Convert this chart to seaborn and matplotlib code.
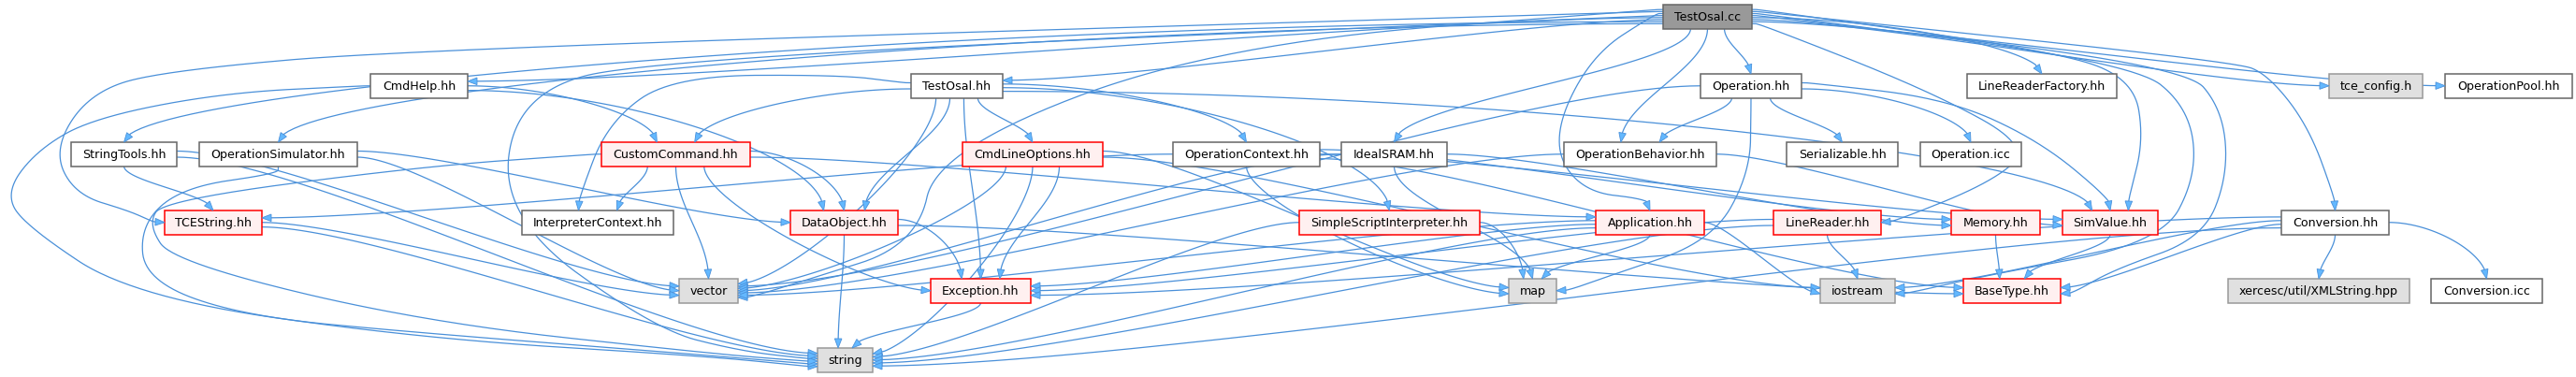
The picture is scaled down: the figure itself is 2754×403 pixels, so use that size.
import numpy as np
import pandas as pd
import matplotlib
matplotlib.use("Agg")
import matplotlib.pyplot as plt
from matplotlib.patches import Rectangle, Polygon
import seaborn as sns

# --- include graph of TestOsal.cc ---
node_names = ["TestOsal.cc",
              "CmdHelp.hh", "TestOsal.hh", "Operation.hh", "LineReaderFactory.hh", "tce_config.h", "OperationPool.hh",
              "StringTools.hh", "OperationSimulator.hh", "CustomCommand.hh", "CmdLineOptions.hh",
              "OperationContext.hh", "IdealSRAM.hh", "OperationBehavior.hh", "Serializable.hh", "Operation.icc",
              "TCEString.hh", "InterpreterContext.hh", "DataObject.hh", "SimpleScriptInterpreter.hh",
              "Application.hh", "LineReader.hh", "Memory.hh", "SimValue.hh", "Conversion.hh",
              "vector", "Exception.hh", "map", "iostream", "BaseType.hh", "xercesc/util/XMLString.hpp",
              "Conversion.icc",
              "string"]
node_x0 = [1778,
           396, 974, 1818, 2103, 2490, 2614,
           76, 213, 643, 1029, 1254, 1434, 1672, 1910, 2053,
           176, 558, 845, 1389, 1706, 1896, 2086, 2205, 2439,
           726, 995, 1613, 1946, 2099, 2382, 2599,
           874]
node_x1 = [1873,
           500, 1072, 1926, 2263, 2590, 2750,
           189, 382, 802, 1179, 1411, 1547, 1835, 2029, 2161,
           280, 720, 960, 1582, 1822, 2011, 2181, 2307, 2554,
           789, 1102, 1664, 2026, 2203, 2576, 2718,
           933]
node_layer = [0,
              1, 1, 1, 1, 1, 1,
              2, 2, 2, 2, 2, 2, 2, 2, 2,
              3, 3, 3, 3, 3, 3, 3, 3, 3,
              4, 4, 4, 4, 4, 4, 4,
              5]
node_kind = ["root",
             "plain", "plain", "plain", "plain", "ext", "plain",
             "plain", "plain", "red", "red", "plain", "plain", "plain", "plain", "plain",
             "red", "plain", "red", "red", "red", "red", "red", "red", "plain",
             "ext", "red", "ext", "ext", "red", "ext", "plain",
             "ext"]

edges = [
    ("TestOsal.cc", "CmdHelp.hh"), ("TestOsal.cc", "TestOsal.hh"), ("TestOsal.cc", "StringTools.hh"),
    ("TestOsal.cc", "OperationSimulator.hh"), ("TestOsal.cc", "TCEString.hh"), ("TestOsal.cc", "string"),
    ("TestOsal.cc", "vector"), ("TestOsal.cc", "IdealSRAM.hh"), ("TestOsal.cc", "Application.hh"),
    ("TestOsal.cc", "OperationBehavior.hh"), ("TestOsal.cc", "Operation.hh"),
    ("TestOsal.cc", "LineReaderFactory.hh"), ("TestOsal.cc", "LineReader.hh"), ("TestOsal.cc", "SimValue.hh"),
    ("TestOsal.cc", "tce_config.h"), ("TestOsal.cc", "OperationPool.hh"), ("TestOsal.cc", "Conversion.hh"),
    ("TestOsal.cc", "iostream"), ("TestOsal.cc", "BaseType.hh"),
    ("CmdHelp.hh", "CustomCommand.hh"), ("CmdHelp.hh", "DataObject.hh"), ("CmdHelp.hh", "string"),
    ("TestOsal.hh", "CustomCommand.hh"), ("TestOsal.hh", "DataObject.hh"), ("TestOsal.hh", "CmdLineOptions.hh"),
    ("TestOsal.hh", "OperationContext.hh"), ("TestOsal.hh", "Exception.hh"),
    ("TestOsal.hh", "InterpreterContext.hh"), ("TestOsal.hh", "SimpleScriptInterpreter.hh"),
    ("TestOsal.hh", "SimValue.hh"), ("TestOsal.hh", "vector"),
    ("Operation.hh", "OperationBehavior.hh"), ("Operation.hh", "Serializable.hh"),
    ("Operation.hh", "Operation.icc"), ("Operation.hh", "SimValue.hh"), ("Operation.hh", "vector"),
    ("Operation.hh", "map"),
    ("StringTools.hh", "TCEString.hh"), ("StringTools.hh", "vector"), ("StringTools.hh", "string"),
    ("OperationSimulator.hh", "vector"), ("OperationSimulator.hh", "string"),
    ("OperationSimulator.hh", "DataObject.hh"),
    ("CustomCommand.hh", "InterpreterContext.hh"), ("CustomCommand.hh", "vector"),
    ("CustomCommand.hh", "DataObject.hh"), ("CustomCommand.hh", "Exception.hh"),
    ("CustomCommand.hh", "string"), ("CustomCommand.hh", "Application.hh"),
    ("CmdLineOptions.hh", "vector"), ("CmdLineOptions.hh", "Exception.hh"), ("CmdLineOptions.hh", "string"),
    ("CmdLineOptions.hh", "map"), ("CmdLineOptions.hh", "iostream"),
    ("OperationContext.hh", "TCEString.hh"), ("OperationContext.hh", "SimValue.hh"),
    ("OperationContext.hh", "Memory.hh"), ("OperationContext.hh", "map"), ("OperationContext.hh", "BaseType.hh"),
    ("IdealSRAM.hh", "map"), ("IdealSRAM.hh", "vector"), ("IdealSRAM.hh", "Memory.hh"),
    ("OperationBehavior.hh", "vector"), ("OperationBehavior.hh", "SimValue.hh"),
    ("SimpleScriptInterpreter.hh", "map"), ("SimpleScriptInterpreter.hh", "string"),
    ("Application.hh", "map"), ("Application.hh", "vector"), ("Application.hh", "string"),
    ("Application.hh", "iostream"), ("Application.hh", "Exception.hh"),
    ("LineReader.hh", "iostream"), ("LineReader.hh", "string"), ("LineReader.hh", "Exception.hh"),
    ("Memory.hh", "BaseType.hh"), ("SimValue.hh", "BaseType.hh"),
    ("DataObject.hh", "Exception.hh"), ("DataObject.hh", "string"), ("DataObject.hh", "BaseType.hh"),
    ("Exception.hh", "string"),
    ("TCEString.hh", "vector"), ("TCEString.hh", "string"),
    ("Conversion.hh", "iostream"), ("Conversion.hh", "BaseType.hh"),
    ("Conversion.hh", "xercesc/util/XMLString.hpp"), ("Conversion.hh", "Conversion.icc"),
    ("Conversion.hh", "string"), ("Conversion.hh", "Exception.hh"),
]

# layout of the picture (pixels)
W, H = 2754, 403
layer_top = [5, 79, 152, 225, 298, 372]
box_h = 25.5

# edges that the graph layout routes around other boxes
detours = {
    ("TestOsal.cc", "TCEString.hh"): [(450, 52), (170, 76), (95, 100), (57, 160), (80, 208), (140, 226)],
    ("CmdHelp.hh", "string"): [(240, 99), (100, 126), (40, 160), (6, 205), (25, 240), (143, 318), (450, 362),
                               (760, 381)],
    ("CustomCommand.hh", "string"): [(450, 178), (175, 214), (158, 240), (185, 280), (450, 344), (760, 378)],
    ("OperationSimulator.hh", "string"): [(195, 200), (150, 240), (155, 300), (260, 338), (450, 356),
                                          (760, 380)],
    ("TestOsal.cc", "string"): [(700, 62), (552, 100), (536, 233), (700, 352), (790, 375)],
    ("TestOsal.cc", "vector"): [(1300, 47), (1002, 160), (980, 262), (860, 300)],
    ("TestOsal.cc", "Application.hh"): [(1700, 60), (1658, 150), (1690, 205)],
    ("TestOsal.cc", "LineReader.hh"): [(2063, 97), (2172, 157), (2129, 195)],
    ("TestOsal.cc", "SimValue.hh"): [(2200, 55), (2281, 85), (2292, 150)],
    ("TestOsal.cc", "iostream"): [(2281, 67), (2340, 115), (2349, 187), (2310, 260), (2120, 295)],
    ("TestOsal.cc", "BaseType.hh"): [(2336, 70), (2376, 117), (2382, 187), (2355, 255), (2260, 288)],
    ("TestOsal.cc", "Conversion.hh"): [(2390, 66), (2425, 80), (2468, 135)],
    ("Operation.hh", "map"): [(1871, 185), (1830, 258), (1720, 295)],
    ("Operation.hh", "SimValue.hh"): [(2080, 105), (2180, 150)],
    ("TestOsal.hh", "InterpreterContext.hh"): [(900, 80), (720, 81), (650, 130)],
}

sns.set_theme(style="white")
plt.rcParams["font.family"] = ["DejaVu Sans"]

nodes = pd.DataFrame({"name": node_names, "x0": node_x0, "x1": node_x1,
                      "layer": node_layer, "kind": node_kind})
nodes["y0"] = [layer_top[l] for l in nodes["layer"]]
nodes["y1"] = nodes["y0"] + box_h
nodes["cx"] = (nodes["x0"] + nodes["x1"]) / 2
nodes["cy"] = (nodes["y0"] + nodes["y1"]) / 2
nodes = nodes.set_index("name")


def pick_sides(s, t, path):
    if path:
        fx, fy = path[0]
        lx, ly = path[-1]
        if fy > s.y1 and s.x0 - 30 < fx < s.x1 + 30:
            ss = "bottom"
        else:
            ss = "left" if fx < s.cx else "right"
        if ly < t.y0 and t.x0 - 30 < lx < t.x1 + 30:
            ts = "top"
        else:
            ts = "left" if lx < t.cx else "right"
        return ss, ts, (fx, fy), (lx, ly)
    dl = t.layer - s.layer
    dx = t.cx - s.cx
    gap = t.y0 - s.y1
    if dl == 1 and abs(dx) > 400:
        ss = "left" if dx < 0 else "right"
        ts = "right" if dx < 0 else "left"
    else:
        ts = "top"
        if t.layer >= 4 and abs(dx) > 200:
            ts = "right" if dx < 0 else "left"
        ss = "bottom" if abs(dx) < 3.0 * gap else ("left" if dx < 0 else "right")
    return ss, ts, (t.cx, t.cy), (s.cx, s.cy)


rows = []
for k, (a, b) in enumerate(edges):
    s, t = nodes.loc[a], nodes.loc[b]
    path = detours.get((a, b))
    ss, ts, far_s, far_t = pick_sides(s, t, path)
    rows.append(dict(k=k, src=a, dst=b, ss=ss, ts=ts, fsx=far_s[0], fsy=far_s[1],
                     ftx=far_t[0], fty=far_t[1]))
E = pd.DataFrame(rows)

# spread the ports along each box side
ends = pd.concat([
    E.rename(columns={"src": "node", "ss": "side", "fsx": "ox", "fsy": "oy"})[["k", "node", "side", "ox", "oy"]]
    .assign(end="s"),
    E.rename(columns={"dst": "node", "ts": "side", "ftx": "ox", "fty": "oy"})[["k", "node", "side", "ox", "oy"]]
    .assign(end="t")])
ports = {}
for (node, side), grp in ends.groupby(["node", "side"]):
    n = nodes.loc[node]
    if side in ("top", "bottom"):
        grp = grp.sort_values(["ox", "oy"])
        m = 0.12 * (n.x1 - n.x0)
        pos = np.linspace(n.x0 + m, n.x1 - m, len(grp) + 2)[1:-1]
        y = n.y1 if side == "bottom" else n.y0
        for (_, r), p in zip(grp.iterrows(), pos):
            ports[(r.k, r.end)] = (p, y)
    else:
        grp = grp.sort_values(["oy", "ox"])
        pos = np.linspace(n.y0 + 3, n.y1 - 3, len(grp) + 2)[1:-1]
        x = n.x0 if side == "left" else n.x1
        for (_, r), p in zip(grp.iterrows(), pos):
            ports[(r.k, r.end)] = (x, p)

out_dir = {"bottom": (0, 1), "left": (-1, 0), "right": (1, 0)}
in_dir = {"top": (0, 1), "left": (1, 0), "right": (-1, 0)}


def chaikin(pts, it=5):
    pts = np.asarray(pts, float)
    for _ in range(it):
        q = 0.75 * pts[:-1] + 0.25 * pts[1:]
        r = 0.25 * pts[:-1] + 0.75 * pts[1:]
        mid = np.empty((2 * len(q), 2))
        mid[0::2], mid[1::2] = q, r
        pts = np.vstack([pts[:1], mid, pts[-1:]])
    return pts


def bezier(p0, p1, p2, p3, n=60):
    u = np.linspace(0, 1, n)[:, None]
    return ((1 - u) ** 3) * p0 + 3 * ((1 - u) ** 2) * u * p1 + 3 * (1 - u) * u ** 2 * p2 + u ** 3 * p3


arrow_len, arrow_hw = 10.0, 3.8
line_parts = []
heads = []
for _, r in E.iterrows():
    p0 = np.array(ports[(r.k, "s")])
    p3 = np.array(ports[(r.k, "t")])
    d0 = np.array(out_dir[r.ss], float)
    d3 = np.array(in_dir[r.ts], float)
    path = detours.get((r.src, r.dst))
    if path:
        pts = [p0, p0 + d0 * 8] + [np.array(p, float) for p in path] + [p3 - d3 * 12, p3]
        curve = chaikin(pts)
    else:
        dx, dy = p3 - p0
        if d0[1] and d3[1]:
            l0 = l3 = 0.35 * abs(dy)
        elif not d0[1] and not d3[1]:
            l0 = l3 = 0.2 * abs(dx)
        else:
            l0 = 0.45 * abs(dx) if not d0[1] else 0.3 * abs(dy)
            l3 = 0.45 * abs(dy) if d3[1] else 0.25 * abs(dx)
        curve = bezier(p0, p0 + d0 * l0, p3 - d3 * l3, p3)
    # cut the line where the arrow head starts
    dist = np.hypot(*(curve - p3).T)
    keep = dist > arrow_len
    back = curve[keep][-1] if keep.any() else p0
    direc = (p3 - back) / max(np.hypot(*(p3 - back)), 1e-6)
    base = p3 - direc * arrow_len
    line = np.vstack([curve[keep], base])
    line_parts.append(pd.DataFrame({"edge": r.k, "order": np.arange(len(line)),
                                    "x": line[:, 0], "y": line[:, 1]}))
    nrm = np.array([-direc[1], direc[0]])
    heads.append([p3, base + nrm * arrow_hw, base - nrm * arrow_hw])

lines = pd.concat(line_parts, ignore_index=True)

fig = plt.figure(figsize=(W / 100, H / 100), dpi=100)
ax = fig.add_axes([0, 0, 1, 1])
sns.lineplot(data=lines, x="x", y="y", units="edge", estimator=None, sort=False,
             color="#4a90d9", linewidth=0.9, ax=ax, legend=False, zorder=1)
for tri in heads:
    ax.add_patch(Polygon(tri, closed=True, facecolor="#63b8ff", edgecolor="#4a90d9",
                         linewidth=0.6, zorder=3))

styles = {"root": ("#999999", "#666666"), "plain": ("white", "#666666"),
          "red": ("#fff0f0", "#ff0000"), "ext": ("#e0e0e0", "#999999")}
for name, n in nodes.iterrows():
    fc, ec = styles[n.kind]
    ax.add_patch(Rectangle((n.x0, n.y0), n.x1 - n.x0, box_h, facecolor=fc, edgecolor=ec,
                           linewidth=1.1, zorder=2))
    ax.text(n.cx, n.cy + 0.5, name, ha="center", va="center", fontsize=9.1, color="black", zorder=4)

ax.set_xlim(0, W)
ax.set_ylim(H, 0)
ax.set_axis_off()
fig.savefig("out.png", dpi=100, facecolor="white")
